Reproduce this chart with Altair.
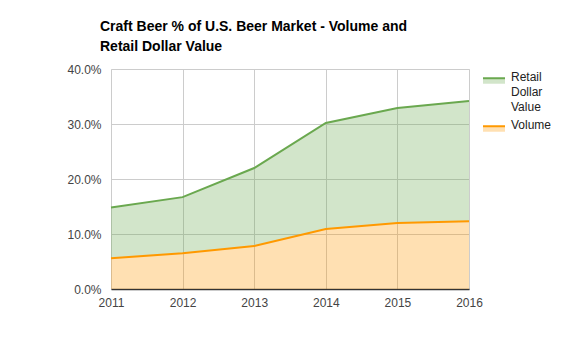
import altair as alt
import pandas as pd

years = [2011, 2012, 2013, 2014, 2015, 2016]
retail = [14.8, 16.7, 22.0, 30.2, 32.9, 34.2]
volume = [5.6, 6.5, 7.8, 10.9, 12.0, 12.3]
series = ["Retail Dollar Value", "Volume"]
line_colors = ["#6aa84f", "#ff9900"]
fill_colors = ["rgba(106,168,79,0.3)", "rgba(255,153,0,0.3)"]
y_ticks = [0, 10, 20, 30, 40]

df = pd.DataFrame({
    "year": years,
    "retail": [v / 100 for v in retail],
    "volume": [v / 100 for v in volume],
})

FONT = "Liberation Sans"

x_enc = alt.X(
    "year:Q",
    scale=alt.Scale(domain=[years[0], years[-1]], nice=False, zero=False),
    axis=alt.Axis(values=years, format="d", title=None, grid=True, ticks=False,
                  labelPadding=8, labelFlush=False, domainColor="#333333", domainWidth=1.5,
                  gridColor="#cccccc", labelColor="#444444", labelFontSize=12,
                  labelFont=FONT),
)
y_scale = alt.Scale(domain=[0, 0.4], nice=False)
y_axis = alt.Axis(values=[t / 100 for t in y_ticks], format=".1%", title=None,
                  ticks=False, domain=False, labelPadding=10, gridColor="#cccccc",
                  labelColor="#444444", labelFontSize=12, labelFont=FONT)

legend = alt.Legend(
    title=None, orient="none", legendX=371, legendY=0,
    symbolType="M-1,-0.25H1V0.25H-1Z", symbolSize=484, symbolStrokeWidth=2,
    symbolDash=[22, 80], labelExpr="split(datum.label, ' ')",
    labelFontSize=12, labelColor="#222222", labelFont=FONT, labelOffset=5,
    labelBaseline="alphabetic", padding=0, rowPadding=4,
)

fill_enc = alt.Fill("series:N", scale=alt.Scale(domain=series, range=fill_colors), legend=legend)
stroke_enc = alt.Stroke("series:N", scale=alt.Scale(domain=series, range=line_colors), legend=legend)

base = alt.Chart(df)

retail_area = base.transform_calculate(series=f"'{series[0]}'").mark_area().encode(
    x=x_enc, y=alt.Y("retail:Q", scale=y_scale, axis=y_axis), y2="volume:Q", fill=fill_enc)
volume_area = base.transform_calculate(series=f"'{series[1]}'").mark_area().encode(
    x=x_enc, y=alt.Y("volume:Q", scale=y_scale, axis=y_axis), fill=fill_enc)
retail_line = base.transform_calculate(series=f"'{series[0]}'").mark_line(strokeWidth=2).encode(
    x=x_enc, y=alt.Y("retail:Q", scale=y_scale, axis=y_axis), stroke=stroke_enc)
volume_line = base.transform_calculate(series=f"'{series[1]}'").mark_line(strokeWidth=2).encode(
    x=x_enc, y=alt.Y("volume:Q", scale=y_scale, axis=y_axis), stroke=stroke_enc)

chart = alt.layer(retail_area, volume_area, retail_line, volume_line).properties(
    width=358, height=220,
    autosize=alt.AutoSizeParams(type="none"),
    padding={"left": 103, "top": 61, "right": 103, "bottom": 62},
    title=alt.Title(["Craft Beer % of U.S. Beer Market - Volume and", "Retail Dollar Value"],
                    anchor="start", frame="group", fontSize=14, font=FONT,
                    fontWeight="bold", color="#000000", lineHeight=20, offset=9, dx=-11),
).configure_view(stroke=None).configure(style={"guide-label": {"lineHeight": 15}})

chart.save("out.html", embed_options={"renderer": "svg", "actions": False})
